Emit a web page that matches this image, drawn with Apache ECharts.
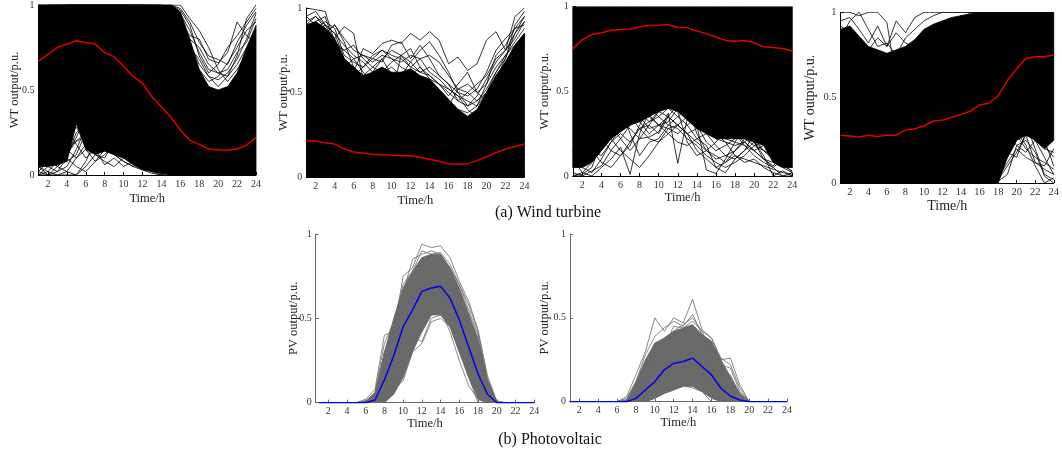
<!DOCTYPE html>
<html><head><meta charset="utf-8">
<script src="https://cdn.jsdelivr.net/npm/echarts@6/dist/echarts.min.js"></script>
<style>html,body{margin:0;padding:0;background:#fff}#c{width:1062px;height:459px}</style>
</head><body><div id="c"></div>
<script>
// ---------- data ----------
const hours = [1,2,3,4,5,6,7,8,9,10,11,12,13,14,15,16,17,18,19,20,21,22,23,24];
const xTicks = [2,4,6,8,10,12,14,16,18,20,22,24];
const yTicks = [0,0.5,1];

// WT panel 1
const wt1Mean  = [0.67,0.71,0.75,0.77,0.79,0.78,0.77,0.72,0.695,0.64,0.58,0.54,0.46,0.40,0.34,0.265,0.205,0.18,0.153,0.147,0.145,0.153,0.176,0.22];
const wt1Upper = [1,1,1,1,1,1,1,1,1,1,1,1,1,1,1,0.96,0.8,0.62,0.52,0.5,0.52,0.6,0.75,0.88];
const wt1Lower = [0.05,0.05,0.06,0.08,0.3,0.15,0.12,0.14,0.12,0.1,0.06,0.03,0.02,0.01,0,0,0,0,0,0,0,0,0,0];
const wt1Lines = [
 [0.05,0.02,0.08,0.18,0.32,0.4,0.34,0.25,0.18,0.12,0.08,0.04,0.02,0.01,0.05,0.1,0.2,0.3,0.35,0.4,0.45,0.5,0.55,0.6],
 [0.1,0.05,0.02,0.1,0.25,0.3,0.12,0.1,0.2,0.18,0.1,0.05,0.02,0,0.02,0.08,0.15,0.25,0.3,0.35,0.3,0.35,0.4,0.45],
 [0,0,0.02,0.05,0.15,0.28,0.35,0.3,0.22,0.15,0.12,0.08,0.04,0.02,0,0.05,0.1,0.15,0.2,0.25,0.3,0.4,0.5,0.55],
 [0.15,0.1,0.05,0.02,0,0.08,0.2,0.25,0.28,0.25,0.2,0.15,0.1,0.05,0.02,0.05,0.1,0.2,0.3,0.35,0.4,0.42,0.45,0.5],
 [0.02,0.08,0.15,0.22,0.3,0.45,0.5,0.42,0.35,0.28,0.2,0.12,0.06,0.02,0.01,0,0.05,0.1,0.15,0.2,0.25,0.3,0.35,0.4],
 [0,0.02,0,0,0,0.05,0.12,0.08,0.05,0.1,0.15,0.12,0.06,0.02,0,0.02,0.05,0.1,0.2,0.3,0.4,0.5,0.6,0.7],
 [0.08,0.12,0.2,0.28,0.18,0.1,0.15,0.06,0.1,0.05,0.08,0.1,0.05,0.02,0,0,0.02,0.05,0.1,0.2,0.3,0.4,0.45,0.5],
 [0.2,0.15,0.1,0.12,0.2,0.22,0.28,0.32,0.3,0.25,0.28,0.2,0.1,0.04,0.01,0,0.05,0.12,0.2,0.28,0.35,0.38,0.4,0.42],
 [0.05,0,0,0.02,0.1,0.18,0.22,0.15,0.12,0.08,0.05,0.03,0.01,0,0,0.01,0.03,0.08,0.15,0.25,0.35,0.45,0.5,0.6],
 [0.12,0.18,0.25,0.32,0.38,0.35,0.42,0.38,0.3,0.22,0.15,0.1,0.06,0.03,0.01,0.02,0.06,0.12,0.2,0.3,0.38,0.45,0.5,0.55],
 [0.3,0.25,0.15,0.08,0.12,0.25,0.3,0.22,0.15,0.18,0.12,0.06,0.03,0.01,0.02,0.1,0.2,0.3,0.35,0.4,0.38,0.42,0.45,0.5],
 [0,0.05,0.12,0.2,0.35,0.3,0.25,0.32,0.28,0.2,0.22,0.18,0.1,0.05,0.02,0.05,0.1,0.2,0.25,0.3,0.35,0.4,0.45,0.5],
 [0.22,0.28,0.2,0.15,0.1,0.15,0.08,0.12,0.18,0.22,0.18,0.12,0.08,0.05,0.02,0,0.05,0.1,0.15,0.2,0.25,0.3,0.35,0.4],
 [0.05,0.1,0.05,0.12,0.22,0.35,0.4,0.48,0.42,0.35,0.25,0.18,0.12,0.06,0.03,0.01,0.03,0.08,0.15,0.2,0.28,0.35,0.42,0.5],
 [0.15,0.2,0.3,0.38,0.45,0.5,0.4,0.3,0.25,0.22,0.2,0.15,0.12,0.08,0.05,0.02,0.05,0.1,0.15,0.2,0.25,0.3,0.35,0.4],
 [0.02,0,0.05,0.1,0.05,0.02,0.08,0.15,0.12,0.08,0.05,0.08,0.04,0.02,0.01,0,0.02,0.05,0.1,0.15,0.2,0.25,0.3,0.35],
 [0.25,0.3,0.35,0.42,0.48,0.45,0.38,0.35,0.4,0.35,0.28,0.22,0.15,0.1,0.05,0.02,0.05,0.1,0.15,0.2,0.25,0.3,0.35,0.4],
 [0.08,0.05,0.1,0.15,0.2,0.25,0.32,0.28,0.22,0.3,0.25,0.15,0.08,0.04,0.02,0.01,0.02,0.05,0.1,0.15,0.2,0.25,0.3,0.35],
 [0.12,0.08,0.15,0.25,0.28,0.2,0.25,0.18,0.12,0.1,0.12,0.08,0.1,0.05,0.02,0,0.01,0.03,0.08,0.12,0.18,0.22,0.28,0.32],
 [0.18,0.22,0.28,0.35,0.4,0.42,0.35,0.3,0.35,0.28,0.3,0.25,0.18,0.1,0.05,0.02,0.01,0.02,0.05,0.1,0.15,0.2,0.25,0.3],
 [0.9,0.95,1,1,1,1,1,1,1,1,1,1,1,0.98,0.95,0.9,0.82,0.8,0.68,0.66,0.72,0.9,0.82,0.78],
 [1,1,1,1,1,1,1,1,1,1,1,1,1,1,0.99,0.95,0.85,0.72,0.62,0.6,0.58,0.7,0.92,1.0],
 [0.95,1,1,1,1,1,1,1,1,1,1,1,1,1,1,0.98,0.9,0.78,0.7,0.68,0.65,0.78,0.88,0.96],
 [0.9,0.92,0.95,1,1,1,1,1,1,1,1,1,0.98,0.95,0.9,0.88,0.75,0.68,0.58,0.56,0.6,0.68,0.8,0.95],
 [1,1,1,1,1,1,1,1,1,1,1,1,1,1,1,1,0.92,0.85,0.75,0.62,0.55,0.62,0.72,0.85],
 [0.85,0.9,0.95,1,1,1,1,1,1,1,0.98,0.95,0.92,0.9,0.85,0.8,0.7,0.62,0.55,0.58,0.66,0.75,0.85,0.9],
 [1,1,1,1,1,1,1,1,1,1,1,1,1,1,1,0.97,0.88,0.7,0.6,0.65,0.75,0.82,0.9,0.98],
 [1,1,1,1,1,1,1,1,1,1,1,1,1,1,0.98,0.92,0.8,0.75,0.65,0.6,0.62,0.72,0.78,0.92],
 [0.95,1,1,1,1,1,1,1,1,1,1,1,1,1,0.97,0.9,0.78,0.65,0.58,0.52,0.58,0.65,0.75,0.82]
];

// WT panel 2
const wt2Mean  = [0.215,0.213,0.203,0.195,0.166,0.148,0.14,0.134,0.132,0.128,0.126,0.126,0.116,0.105,0.093,0.079,0.075,0.079,0.097,0.12,0.144,0.166,0.18,0.195];
const wt2Upper = [0.9,0.92,0.88,0.82,0.7,0.65,0.6,0.62,0.65,0.62,0.62,0.64,0.6,0.58,0.52,0.46,0.4,0.36,0.4,0.5,0.6,0.68,0.78,0.85];
const wt2Lower = [0,0,0,0,0,0,0,0,0,0,0,0,0,0,0,0,0,0,0,0,0,0,0,0];
const wt2Lines = [
 [1.0,0.99,0.98,0.8,0.7,0.65,0.55,0.5,0.6,0.55,0.5,0.45,0.4,0.35,0.3,0.25,0.2,0.22,0.3,0.4,0.5,0.6,0.7,0.8],
 [0.9,0.95,0.88,0.82,0.89,0.85,0.58,0.62,0.65,0.6,0.55,0.5,0.48,0.45,0.4,0.35,0.3,0.3,0.35,0.45,0.55,0.65,0.75,0.85],
 [0.7,0.75,0.7,0.65,0.6,0.62,0.76,0.73,0.79,0.81,0.79,0.85,0.81,0.86,0.81,0.67,0.71,0.63,0.67,0.81,0.86,0.75,0.95,1.0],
 [0.8,0.85,0.9,0.85,0.7,0.6,0.65,0.7,0.68,0.78,0.8,0.7,0.78,0.7,0.6,0.55,0.45,0.5,0.55,0.6,0.7,0.75,0.82,0.92],
 [0.6,0.7,0.75,0.7,0.55,0.5,0.6,0.58,0.62,0.65,0.6,0.68,0.75,0.8,0.72,0.62,0.5,0.42,0.45,0.5,0.62,0.7,0.85,0.95],
 [0.85,0.8,0.75,0.72,0.65,0.7,0.62,0.55,0.5,0.48,0.72,0.76,0.65,0.58,0.55,0.48,0.55,0.62,0.5,0.45,0.5,0.58,0.7,0.78],
 [0.95,0.9,0.85,0.9,0.8,0.65,0.6,0.65,0.7,0.6,0.62,0.55,0.6,0.55,0.5,0.45,0.4,0.38,0.42,0.55,0.72,0.78,0.88,0.9],
 [0.75,0.8,0.7,0.6,0.52,0.58,0.5,0.55,0.5,0.62,0.58,0.6,0.65,0.6,0.55,0.52,0.48,0.4,0.35,0.42,0.6,0.68,0.78,0.85],
 [0.88,0.92,0.95,0.78,0.75,0.7,0.72,0.68,0.72,0.7,0.65,0.62,0.58,0.52,0.48,0.42,0.52,0.5,0.45,0.52,0.62,0.72,0.8,0.88],
 [0.92,0.95,0.9,0.85,0.78,0.72,0.68,0.62,0.7,0.75,0.72,0.65,0.62,0.6,0.55,0.5,0.45,0.42,0.48,0.58,0.68,0.75,0.85,0.92],
 [0.82,0.88,0.92,0.88,0.72,0.68,0.65,0.72,0.75,0.7,0.68,0.72,0.7,0.62,0.58,0.52,0.48,0.45,0.42,0.5,0.58,0.7,0.9,0.98],
 [0.95,0.98,0.9,0.8,0.75,0.78,0.7,0.65,0.62,0.68,0.72,0.68,0.62,0.65,0.6,0.55,0.5,0.48,0.52,0.62,0.75,0.82,0.88,0.95],
 [0.78,0.82,0.85,0.9,0.82,0.75,0.72,0.7,0.75,0.72,0.7,0.65,0.7,0.72,0.68,0.6,0.52,0.55,0.5,0.55,0.65,0.72,0.78,0.82]
];

// WT panel 3
const wt3Mean  = [0.75,0.805,0.835,0.845,0.86,0.865,0.866,0.88,0.888,0.89,0.894,0.876,0.874,0.855,0.84,0.82,0.80,0.795,0.80,0.786,0.762,0.758,0.752,0.737];
const wt3Upper = [1,1,1,1,1,1,1,1,1,1,1,1,1,1,1,1,1,1,1,1,1,1,1,1];
const wt3Lower = [0.05,0.05,0.08,0.15,0.22,0.26,0.3,0.32,0.35,0.38,0.4,0.38,0.33,0.28,0.25,0.22,0.22,0.22,0.22,0.2,0.18,0.08,0.05,0.05];
const wt3Lines = [
 [0,0.01,0.05,0.21,0.35,0.45,0.55,0.6,0.65,0.62,0.58,0.55,0.5,0.45,0.4,0.35,0.3,0.25,0.3,0.35,0.32,0.28,0.2,0.15],
 [0.1,0.02,0,0.05,0.1,0.17,0.01,0.25,0.38,0.45,0.5,0.52,0.48,0.42,0.35,0.3,0.22,0.25,0.2,0.15,0.1,0.05,0,0.02],
 [0.2,0.15,0.1,0.15,0.25,0.3,0.28,0.22,0.23,0.26,0.37,0.075,0.34,0.3,0.2,0.15,0.18,0.22,0.25,0.2,0.15,0.12,0.08,0.02],
 [0.3,0.25,0.2,0.28,0.35,0.42,0.25,0.12,0.2,0.22,0.3,0.35,0.4,0.3,0.035,0.015,0.1,0.2,0.28,0.25,0.2,0.18,0.12,0.1],
 [0.05,0.1,0.12,0.18,0.25,0.32,0.4,0.35,0.28,0.3,0.35,0.42,0.38,0.3,0.25,0.18,0.12,0.1,0.15,0.2,0.12,0,0.03,0],
 [0.4,0.35,0.3,0.22,0.15,0.12,0.18,0.3,0.4,0.45,0.42,0.38,0.2,0.12,0.15,0.2,0.28,0.35,0.3,0.22,0.15,0.1,0.05,0.08],
 [0.15,0.05,0.02,0.1,0.2,0.28,0.35,0.32,0.25,0.3,0.28,0.25,0.3,0.22,0.18,0.05,0.02,0.1,0.15,0.25,0.3,0.22,0.15,0.05],
 [0.45,0.4,0.35,0.38,0.42,0.48,0.45,0.4,0.36,0.3,0.32,0.4,0.45,0.42,0.35,0.32,0.35,0.3,0.22,0.18,0.2,0.15,0.1,0.12],
 [0.25,0.2,0.15,0.08,0.05,0.12,0.2,0.28,0.32,0.38,0.45,0.5,0.42,0.25,0.15,0.12,0.08,0.15,0.22,0.2,0.1,0.06,0.12,0.2],
 [0.02,0,0.03,0.06,0.15,0.22,0.3,0.4,0.45,0.5,0.46,0.4,0.35,0.3,0.28,0.22,0.2,0.12,0.08,0.1,0.05,0.02,0,0],
 [0.05,0.08,0.15,0.12,0.2,0.25,0.2,0.28,0.3,0.25,0.35,0.3,0.25,0.2,0.15,0.1,0.12,0.15,0.2,0.15,0.1,0.08,0.05,0.02],
 [0.3,0.35,0.4,0.35,0.3,0.22,0.15,0.22,0.3,0.38,0.4,0.35,0.3,0.35,0.28,0.22,0.25,0.3,0.25,0.2,0.22,0.18,0.1,0.05],
 [0.12,0.2,0.25,0.3,0.38,0.35,0.3,0.35,0.4,0.35,0.3,0.28,0.22,0.18,0.12,0.08,0.05,0.08,0.12,0.18,0.15,0.1,0.06,0.03],
 [0.35,0.3,0.25,0.2,0.25,0.32,0.38,0.42,0.35,0.3,0.25,0.3,0.35,0.32,0.28,0.25,0.2,0.18,0.2,0.25,0.2,0.15,0.2,0.25],
 [0,0.02,0.08,0.15,0.22,0.15,0.1,0.05,0.12,0.2,0.28,0.3,0.25,0.15,0.1,0.05,0.08,0.12,0.1,0.08,0.06,0.04,0.02,0.01],
 [0.22,0.18,0.22,0.28,0.3,0.35,0.42,0.38,0.32,0.35,0.4,0.45,0.4,0.35,0.3,0.25,0.22,0.2,0.18,0.15,0.18,0.2,0.15,0.1],
 [0.15,0.22,0.3,0.35,0.42,0.4,0.35,0.28,0.22,0.2,0.25,0.2,0.18,0.22,0.25,0.28,0.3,0.25,0.18,0.12,0.08,0.05,0.1,0.15],
 [0.4,0.42,0.45,0.4,0.35,0.3,0.35,0.45,0.42,0.38,0.35,0.3,0.25,0.28,0.32,0.35,0.3,0.28,0.25,0.22,0.25,0.22,0.18,0.15]
];

// WT panel 4
const wt4Mean  = [0.28,0.275,0.27,0.28,0.273,0.28,0.28,0.31,0.318,0.334,0.363,0.367,0.385,0.402,0.42,0.457,0.467,0.51,0.60,0.67,0.73,0.74,0.74,0.75];
const wt4Upper = [0.9,0.92,0.86,0.8,0.78,0.76,0.78,0.8,0.84,0.9,0.93,0.95,0.97,0.98,0.99,1,1,1,1,1,1,1,1,1];
const wt4Lower = [0,0,0,0,0,0,0,0,0,0,0,0,0,0,0,0,0,0,0.15,0.25,0.28,0.25,0.2,0.25];
const wt4Lines = [
 [1,1,0.98,1,1,0.94,0.6,0.5,0.55,0.6,0.7,0.8,0.9,0.95,1,1,1,1,1,1,1,1,1,1],
 [0.95,0.97,0.9,0.82,0.92,0.8,0.95,0.88,0.97,1,1,1,1,1,1,1,1,1,1,1,1,1,1,1],
 [0.85,0.95,1,0.9,0.8,0.82,0.75,0.85,0.9,0.95,0.98,1,1,1,1,1,1,1,1,1,1,1,1,1],
 [0.92,0.88,0.82,0.78,0.85,0.8,0.88,0.82,0.8,0.88,0.92,0.9,0.95,0.98,0.99,1,1,1,1,1,1,1,1,1],
 [0.3,0.25,0.2,0.15,0.1,0.08,0.06,0.05,0.04,0.03,0.02,0.02,0.01,0.01,0,0,0.01,0.05,0.15,0.25,0.35,0.2,0.05,0.02],
 [0.2,0.15,0.1,0.08,0.06,0.05,0.04,0.03,0.03,0.02,0.02,0.01,0.01,0,0,0,0,0.02,0.18,0.15,0.3,0.28,0.25,0.1],
 [0.4,0.35,0.3,0.25,0.2,0.15,0.12,0.1,0.08,0.06,0.05,0.04,0.03,0.02,0.01,0.01,0.01,0.04,0.2,0.3,0.22,0.1,0,0.03],
 [0.25,0.2,0.18,0.15,0.12,0.1,0.08,0.07,0.05,0.04,0.03,0.02,0.02,0.01,0.01,0,0.02,0.06,0.25,0.4,0.32,0.25,0.15,0.05],
 [0.35,0.3,0.28,0.22,0.18,0.15,0.12,0.1,0.08,0.06,0.05,0.04,0.03,0.02,0.02,0.02,0.04,0.08,0.22,0.35,0.45,0.38,0.3,0.35],
 [0.5,0.45,0.4,0.35,0.3,0.25,0.2,0.15,0.12,0.1,0.08,0.06,0.05,0.04,0.03,0.03,0.05,0.1,0.25,0.28,0.2,0.15,0.12,0.08],
 [0.15,0.12,0.1,0.08,0.06,0.05,0.04,0.03,0.02,0.02,0.01,0.01,0.01,0,0,0.01,0.02,0.03,0.12,0.2,0.15,0.12,0.08,0.05],
 [0.45,0.4,0.35,0.3,0.28,0.22,0.18,0.15,0.12,0.1,0.08,0.06,0.05,0.04,0.03,0.02,0.03,0.06,0.28,0.22,0.18,0.25,0.2,0.18],
 [0.3,0.28,0.25,0.2,0.16,0.12,0.1,0.08,0.06,0.05,0.04,0.03,0.02,0.02,0.01,0.01,0.01,0.02,0.1,0.18,0.28,0.12,0.1,0.2],
 [0.2,0.18,0.15,0.12,0.1,0.08,0.06,0.05,0.04,0.03,0.02,0.02,0.02,0.01,0.01,0,0,0.01,0.05,0.22,0.25,0.18,0.04,0],
 [0.4,0.38,0.35,0.3,0.25,0.2,0.16,0.12,0.1,0.08,0.06,0.05,0.04,0.03,0.03,0.02,0.03,0.05,0.18,0.3,0.38,0.3,0.22,0.15]
];

// PV panel 1
const pv1Mean  = [0,0,0,0,0,0,0.016,0.135,0.28,0.45,0.55,0.66,0.68,0.69,0.62,0.49,0.33,0.17,0.05,0,0,0,0,0];
const pv1Upper = [0,0,0,0,0,0.01,0.06,0.3,0.5,0.68,0.78,0.86,0.88,0.88,0.8,0.68,0.53,0.38,0.14,0.005,0,0,0,0];
const pv1Lower = [0,0,0,0,0,0,0,0,0.05,0.15,0.3,0.42,0.52,0.52,0.45,0.3,0.15,0.02,0,0,0,0,0,0];
const pv1Lines = [
 [0,0,0,0,0,0.02,0.08,0.4,0.42,0.75,0.8,0.94,0.92,0.93,0.86,0.72,0.6,0.43,0.16,0.01,0,0,0,0],
 [0,0,0,0,0,0,0.03,0.3,0.45,0.65,0.85,0.88,0.9,0.88,0.8,0.7,0.55,0.4,0.12,0,0,0,0,0],
 [0,0,0,0,0,0,0,0,0.08,0.13,0.3,0.35,0.48,0.5,0.45,0.3,0.15,0,0,0,0,0,0,0],
 [0,0,0,0,0,0,0,0.02,0.15,0.18,0.35,0.42,0.52,0.55,0.42,0.25,0.1,0.02,0,0,0,0,0,0],
 [0,0,0,0,0,0,0.05,0.2,0.35,0.55,0.7,0.82,0.87,0.85,0.75,0.62,0.45,0.3,0.08,0,0,0,0,0],
 [0,0,0,0,0,0,0,0.1,0.25,0.45,0.6,0.68,0.62,0.65,0.58,0.45,0.3,0.15,0.02,0,0,0,0,0],
 [0,0,0,0,0,0.01,0.06,0.35,0.48,0.7,0.78,0.9,0.88,0.89,0.82,0.7,0.58,0.42,0.14,0,0,0,0,0],
 [0,0,0,0,0,0,0,0.05,0.12,0.25,0.4,0.36,0.5,0.52,0.48,0.32,0.18,0.04,0,0,0,0,0,0]
];

// PV panel 2
const pv2Mean  = [0,0,0,0,0,0,0,0.02,0.07,0.12,0.19,0.228,0.24,0.26,0.21,0.16,0.08,0.034,0.01,0,0,0,0,0];
const pv2Upper = [0,0,0,0,0,0,0.01,0.12,0.25,0.35,0.38,0.42,0.44,0.46,0.4,0.36,0.25,0.15,0.05,0,0,0,0,0];
const pv2Lower = [0,0,0,0,0,0,0,0,0,0.02,0.05,0.07,0.09,0.09,0.06,0.02,0,0,0,0,0,0,0,0];
const pv2Lines = [
 [0,0,0,0,0,0,0.03,0.16,0.3,0.5,0.42,0.5,0.47,0.61,0.43,0.38,0.25,0.26,0.1,0,0,0,0,0],
 [0,0,0,0,0,0,0.02,0.12,0.28,0.39,0.44,0.48,0.45,0.52,0.4,0.36,0.22,0.2,0.06,0,0,0,0,0],
 [0,0,0,0,0,0,0,0,0,0.02,0.05,0.07,0.1,0.08,0.06,0,0,0,0,0,0,0,0,0],
 [0,0,0,0,0,0,0.01,0.08,0.2,0.35,0.33,0.45,0.44,0.48,0.42,0.3,0.18,0.16,0.04,0,0,0,0,0],
 [0,0,0,0,0,0,0,0.05,0.1,0.2,0.3,0.35,0.38,0.42,0.35,0.3,0.25,0.1,0.02,0,0,0,0,0],
 [0,0,0,0,0,0,0,0.04,0.15,0.3,0.38,0.42,0.46,0.5,0.42,0.38,0.26,0.22,0.08,0,0,0,0,0],
 [0,0,0,0,0,0,0,0,0.02,0.05,0.08,0.1,0.12,0.11,0.08,0.03,0,0,0,0,0,0,0,0]
];

const wtYName = 'WT output/p.u.';
const pvYName = 'PV output/p.u.';
const xName = 'Time/h';
const captionA = '(a) Wind turbine';
const captionB = '(b) Photovoltaic';

// ---------- layout / style ----------
const FONT = '"Liberation Serif", "Times New Roman", serif';
const panels = [
  {x0:38.5, x1:256,   y0:175,   y1:4.5,  xmin:1,    nameGapY:23.5, nameGapX:17, nf:12.5, lf:10, mean:wt1Mean, up:wt1Upper, lo:wt1Lower, lines:wt1Lines, yName:wtYName, kind:'wt'},
  {x0:306.2,x1:524.5, y0:177,   y1:8,    xmin:1,    nameGapY:22, nameGapX:17, nf:12.5, lf:10, mean:wt2Mean, up:wt2Upper, lo:wt2Lower, lines:wt2Lines, yName:wtYName, kind:'wt'},
  {x0:572.8,x1:792.3, y0:176,   y1:6.5,  xmin:1,    nameGapY:28, nameGapX:15, nf:12.5, lf:10, mean:wt3Mean, up:wt3Upper, lo:wt3Lower, lines:wt3Lines, yName:wtYName, kind:'wt'},
  {x0:840.6,x1:1056,  y0:183,   y1:12.3, xmin:1,    nameGapY:30, nameGapX:12, nf:14,   lf:10.5, mean:wt4Mean, up:wt4Upper, lo:wt4Lower, lines:wt4Lines, yName:wtYName, kind:'wt'},
  {x0:315.7,x1:534.3, y0:402.7, y1:234,  xmin:0.67, nameGapY:22, nameGapX:14, nf:12.5, lf:10, mean:pv1Mean, up:pv1Upper, lo:pv1Lower, lines:pv1Lines, yName:pvYName, kind:'pv'},
  {x0:569.9,x1:787,   y0:401.7, y1:234,  xmin:1,    nameGapY:25, nameGapX:13.5, nf:12.5, lf:10, mean:pv2Mean, up:pv2Upper, lo:pv2Lower, lines:pv2Lines, yName:pvYName, kind:'pv'}
];

const grid=[], xAxis=[], yAxis=[], series=[];
panels.forEach((p, gi) => {
  const isWT = p.kind === 'wt';
  const lineColor = isWT ? '#000' : '#6a6a6a';
  const meanColor = isWT ? '#e00000' : '#0000ee';
  const axisColor = isWT ? '#000' : '#666';
  grid.push({left:p.x0, top:p.y1, width:p.x1-p.x0, height:p.y0-p.y1, containLabel:false});
  xAxis.push({
    gridIndex:gi, type:'value', min:p.xmin, max:24,
    name:xName, nameLocation:'middle', nameGap:p.nameGapX,
    nameTextStyle:{fontFamily:FONT, fontSize:p.nf, color:'#222', verticalAlign:'top'},
    axisLine:{show:true, onZero:false, lineStyle:{color:axisColor, width:1}},
    axisTick:{show:true, inside:true, length:3, customValues:xTicks, lineStyle:{color:axisColor}},
    axisLabel:{customValues:xTicks, margin:4, fontFamily:FONT, fontSize:p.lf, color:'#333'},
    splitLine:{show:false}
  });
  yAxis.push({
    gridIndex:gi, type:'value', min:0, max:1,
    name:p.yName, nameLocation:'middle', nameGap:p.nameGapY, nameMoveOverlap:false,
    nameTextStyle:{fontFamily:FONT, fontSize:p.nf, color:'#222', verticalAlign:'middle'},
    axisLine:{show:true, onZero:false, lineStyle:{color:axisColor, width:1}},
    axisTick:{show:true, inside:true, length:3, customValues:yTicks, lineStyle:{color:axisColor}},
    axisLabel:{customValues:yTicks, margin:4, fontFamily:FONT, fontSize:p.lf, color:'#333',
               formatter:v => String(v)},
    splitLine:{show:false}
  });
  // dense envelope of the scenario bundle, drawn as one polygon through the axis scales
  const up = p.up, lo = p.lo;
  series.push({
    type:'custom', xAxisIndex:gi, yAxisIndex:gi, silent:true, clip:true, z:1,
    data:hours.map((h,i)=>[h, lo[i], up[i]]),
    encode:{x:0, y:[1,2]},
    renderItem:(params, api) => {
      if (params.dataIndex !== 0) return null;
      const pts = [];
      for (let i=0;i<hours.length;i++) pts.push(api.coord([hours[i], up[i]]));
      for (let i=hours.length-1;i>=0;i--) pts.push(api.coord([hours[i], lo[i]]));
      return {type:'polygon', shape:{points:pts}, style:{fill:lineColor, stroke:lineColor, lineWidth:0.8}};
    }
  });
  p.lines.forEach(arr => {
    series.push({type:'line', xAxisIndex:gi, yAxisIndex:gi, symbol:'none', silent:true, z:2,
      data:hours.map((h,i)=>[h, arr[i]]), lineStyle:{width:0.8, color:lineColor}});
  });
  series.push({type:'line', xAxisIndex:gi, yAxisIndex:gi, symbol:'none', silent:true, z:5,
    data:hours.map((h,i)=>[h, p.mean[i]]), lineStyle:{width:1.5, color:meanColor}});
});

const chart = echarts.init(document.getElementById('c'), null, {renderer:'canvas'});
chart.setOption({
  animation:false,
  backgroundColor:'#fff',
  grid, xAxis, yAxis, series,
  graphic:[
    {type:'text', x:548, y:213, style:{text:captionA, font:'16px ' + FONT, fill:'#111', textAlign:'center', textVerticalAlign:'middle'}},
    {type:'text', x:550, y:440, style:{text:captionB, font:'16px ' + FONT, fill:'#111', textAlign:'center', textVerticalAlign:'middle'}}
  ]
});
</script></body></html>
